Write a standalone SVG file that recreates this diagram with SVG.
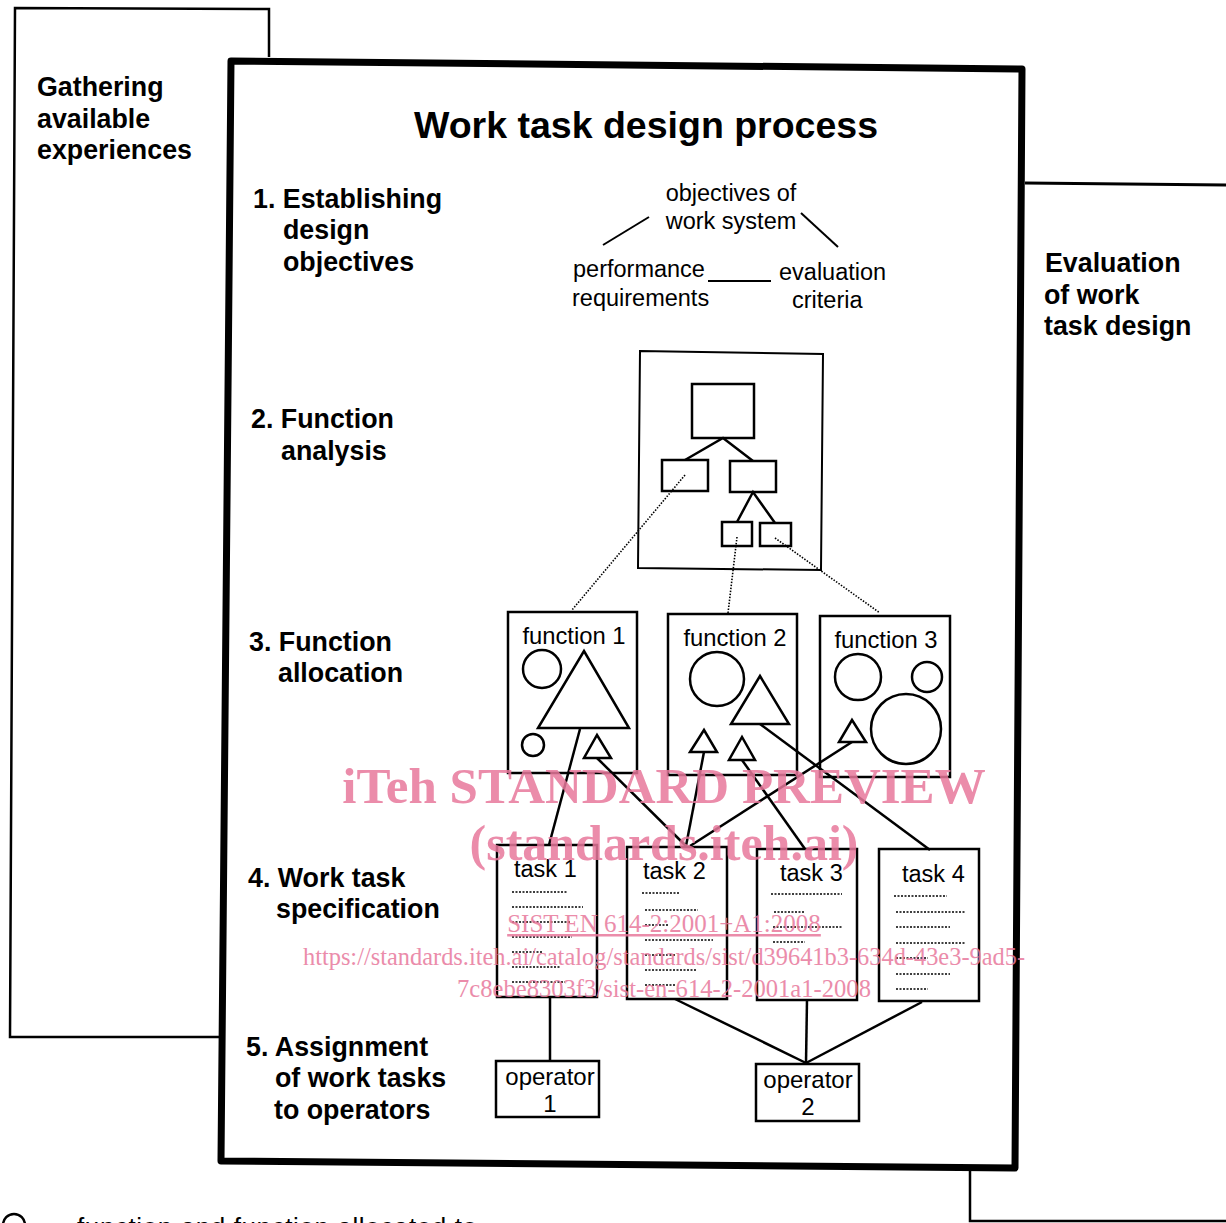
<svg xmlns="http://www.w3.org/2000/svg" width="1226" height="1223" viewBox="0 0 1226 1223">
<style>
.b{font-family:"Liberation Sans",Arial,sans-serif;font-weight:bold;font-size:26.8px;fill:#000}
.t{font-size:37.5px}
.r{font-family:"Liberation Sans",Arial,sans-serif;font-size:23.5px;fill:#000}
.f{font-size:23.8px}
.o{font-size:24px}
.box{fill:none;stroke:#000;stroke-width:2.5}
.thin{fill:none;stroke:#000;stroke-width:2}
.ln{stroke:#000;stroke-width:2.5;fill:none}
.dot{stroke:#000;stroke-width:1.6;stroke-dasharray:1.5 1.5;fill:none}
.dd{stroke:#000;stroke-width:1.6;stroke-dasharray:2 1.5;fill:none}
.wm{font-family:"Liberation Serif","Times New Roman",serif;fill:#E8789C;opacity:0.85}
</style>
<rect width="1226" height="1223" fill="#fff"/>

<g id="frames">
<polyline points="269,57 269,9 15,8 10,1037 222,1037" class="ln" stroke-width="3"/>
<polygon points="231,61 1022,69 1015,1168 221,1161" fill="none" stroke="#000" stroke-width="7" stroke-linejoin="round"/>
<line x1="1025" y1="183" x2="1226" y2="185" stroke="#000" stroke-width="3"/>
<polyline points="970,1168 970,1221 1226,1221" class="ln" stroke-width="3"/>
</g>

<g id="labels">
<text class="b" x="37" y="96">Gathering</text>
<text class="b" x="37" y="128">available</text>
<text class="b" x="37" y="159">experiences</text>
<text class="b t" x="646" y="138" text-anchor="middle">Work task design process</text>
<text class="b" x="253" y="208">1. Establishing</text>
<text class="b" x="283" y="239">design</text>
<text class="b" x="283" y="271">objectives</text>
<text class="b" x="251" y="428">2. Function</text>
<text class="b" x="281" y="460">analysis</text>
<text class="b" x="249" y="651">3. Function</text>
<text class="b" x="278" y="682">allocation</text>
<text class="b" x="248" y="887">4. Work task</text>
<text class="b" x="276" y="918">specification</text>
<text class="b" x="246" y="1056">5. Assignment</text>
<text class="b" x="275" y="1087">of work tasks</text>
<text class="b" x="274" y="1119">to operators</text>
<text class="b" x="1045" y="272">Evaluation</text>
<text class="b" x="1044" y="304">of work</text>
<text class="b" x="1044" y="335">task design</text>
</g>

<g id="objectives">
<text class="r" x="731" y="201" text-anchor="middle">objectives of</text>
<text class="r" x="731" y="229" text-anchor="middle">work system</text>
<text class="r" x="573" y="277">performance</text>
<text class="r" x="572" y="306">requirements</text>
<text class="r" x="779" y="280">evaluation</text>
<text class="r" x="792" y="308">criteria</text>
<line x1="603" y1="245" x2="649" y2="217" class="thin"/>
<line x1="801" y1="213" x2="838" y2="247" class="thin"/>
<line x1="708" y1="281" x2="771" y2="281" class="thin"/>
</g>

<g id="function-analysis">
<polygon points="640,351 823,354 821,570 638,568" class="thin"/>
<rect x="692" y="384" width="62" height="54" class="box"/>
<rect x="662" y="460" width="46" height="31" class="box"/>
<rect x="730" y="461" width="46" height="31" class="box"/>
<rect x="722" y="522" width="30" height="24" class="box"/>
<rect x="760" y="523" width="31" height="23" class="box"/>
<polyline points="685,460 723,438 753,461" class="ln"/>
<polyline points="737,522 753,492 775,523" class="ln"/>
</g>

<g id="function1">
<rect x="508" y="612" width="129" height="161" class="box"/>
<text class="r f" x="574" y="644" text-anchor="middle">function 1</text>
<circle cx="542" cy="669" r="19" class="box"/>
<polygon points="538,728 629,728 584,651" class="box"/>
<circle cx="533" cy="745" r="11" class="box"/>
<polygon points="584,758 611,758 597,735" class="box"/>
</g>
<g id="function2">
<rect x="668" y="614" width="129" height="161" class="box"/>
<text class="r f" x="735" y="646" text-anchor="middle">function 2</text>
<circle cx="717" cy="679" r="27" class="box"/>
<polygon points="731,724 789,724 760,676" class="box"/>
<polygon points="690,752 717,752 704,730" class="box"/>
<polygon points="729,760 755,760 742,737" class="box"/>
</g>
<g id="function3">
<rect x="820" y="616" width="130" height="161" class="box"/>
<text class="r f" x="886" y="648" text-anchor="middle">function 3</text>
<circle cx="858" cy="677" r="23" class="box"/>
<circle cx="927" cy="677" r="15" class="box"/>
<circle cx="906" cy="729" r="35" class="box"/>
<polygon points="839,742 866,742 852,720" class="box"/>
</g>

<g id="task1">
<rect x="497" y="845" width="100" height="152" class="box"/>
<text class="r" x="514" y="877">task 1</text>
<path class="dd" d="M512 892H567M512 907H583M512 922H570M512 937H572M512 952H543M512 967H560M512 982H565"/>
</g>
<g id="task2">
<rect x="627" y="847" width="100" height="152" class="box"/>
<text class="r" x="643" y="879">task 2</text>
<path class="dd" d="M642 893H680M645 910H698M645 925H668M645 940H713M645 955H675M645 970H697M645 985H675"/>
</g>
<g id="task3">
<rect x="757" y="849" width="100" height="151" class="box"/>
<text class="r" x="780" y="881">task 3</text>
<path class="dd" d="M771 894H842M774 912H805M773 927H843M773 942H805"/>
</g>
<g id="task4">
<rect x="879" y="849" width="100" height="152" class="box"/>
<text class="r" x="902" y="882">task 4</text>
<path class="dd" d="M894 896H947M896 912H966M896 927H950M896 943H966M896 958H928M896 974H950M896 989H928"/>
</g>

<g id="operator1">
<rect x="496" y="1061" width="103" height="56" class="box"/>
<text class="r o" x="550" y="1085" text-anchor="middle">operator</text>
<text class="r o" x="550" y="1112" text-anchor="middle">1</text>
</g>
<g id="operator2">
<rect x="756" y="1064" width="103" height="57" class="box"/>
<text class="r o" x="808" y="1088" text-anchor="middle">operator</text>
<text class="r o" x="808" y="1115" text-anchor="middle">2</text>
</g>

<g id="connectors">
<line x1="685" y1="475" x2="572" y2="610" class="dot"/>
<line x1="737" y1="537" x2="728" y2="613" class="dot"/>
<line x1="775" y1="538" x2="880" y2="613" class="dot"/>
<line x1="580" y1="729" x2="549" y2="845" class="ln"/>
<line x1="597" y1="758" x2="686" y2="846" class="ln"/>
<line x1="704" y1="752" x2="686" y2="846" class="ln"/>
<line x1="852" y1="742" x2="690" y2="846" class="ln"/>
<line x1="742" y1="760" x2="805" y2="849" class="ln"/>
<line x1="760" y1="724" x2="930" y2="850" class="ln"/>
<line x1="550" y1="997" x2="550" y2="1061" class="ln"/>
<line x1="675" y1="999" x2="806" y2="1063" class="ln"/>
<line x1="807" y1="1000" x2="806" y2="1063" class="ln"/>
<line x1="922" y1="1002" x2="806" y2="1063" class="ln"/>
</g>

<g id="legend">
<circle cx="14" cy="1225" r="11" class="box"/>
<text class="r" x="77" y="1236" style="font-size:26px;letter-spacing:0.6px">function and function allocated to</text>
</g>

<g id="watermark">
<text class="wm" x="664" y="803" text-anchor="middle" font-size="51" font-weight="bold">iTeh STANDARD PREVIEW</text>
<text class="wm" x="664" y="860" text-anchor="middle" font-size="50" font-weight="bold">(standards.iteh.ai)</text>
<text class="wm" x="664" y="932" text-anchor="middle" font-size="25" text-decoration="underline">SIST EN 614-2:2001+A1:2008</text>
<text class="wm" x="664" y="965" text-anchor="middle" font-size="24.4">https://standards.iteh.ai/catalog/standards/sist/d39641b3-634d-43e3-9ad5-</text>
<text class="wm" x="664" y="997" text-anchor="middle" font-size="24.6">7c8ebe8303f3/sist-en-614-2-2001a1-2008</text>
</g>
</svg>
